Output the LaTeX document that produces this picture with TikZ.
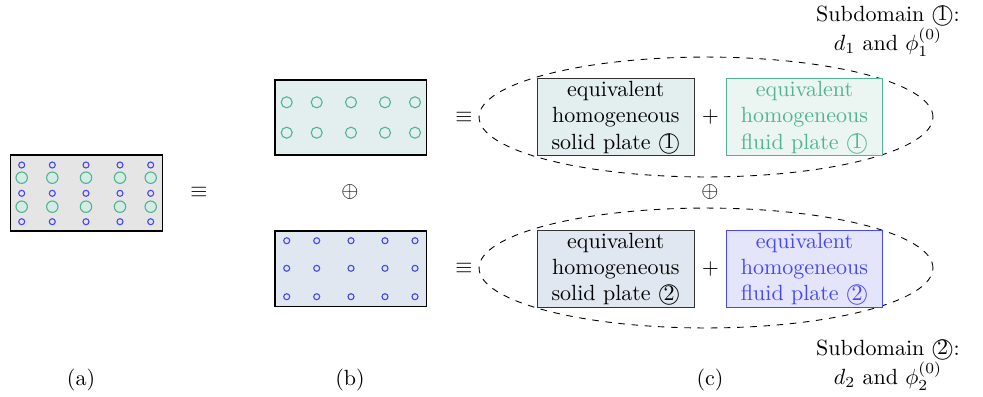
\documentclass[tikz,border=0pt]{standalone}
\usetikzlibrary{shapes.geometric}
\definecolor{gcol}{RGB}{82,180,146}
\definecolor{bcol}{RGB}{70,70,250}
\definecolor{fillgray}{RGB}{229,229,229}
\definecolor{fillG}{RGB}{227,239,238}
\definecolor{fillB}{RGB}{225,231,240}
\definecolor{fillFG}{RGB}{235,245,242}
\definecolor{fillFB}{RGB}{228,228,250}
\definecolor{circfill}{RGB}{212,236,228}
\definecolor{boxborder}{RGB}{50,50,50}
\begin{document}
\begin{tikzpicture}[x=0.4545pt,y=-0.4545pt,
  plate/.style={draw=black, line width=0.7pt, inner sep=0pt},
  bigc/.style={draw=gcol, line width=0.5pt},
  smallc/.style={draw=bcol, line width=0.5pt},
  solidbox/.style={draw=boxborder, line width=0.6pt, align=center, minimum width=71.4pt, minimum height=34.4pt, inner sep=1pt},
  fluidbox/.style={line width=0.5pt, align=center, minimum width=70.7pt, minimum height=34.4pt, inner sep=1pt},
  env/.style={draw, dashed, ellipse, minimum width=206.3pt, minimum height=54.5pt, inner sep=0pt},
  lbl/.style={inner sep=1pt, align=center}]
\useasboundingbox (0,0) rectangle (983,396);
% (a)
\node[plate, fill=fillgray, minimum width=68.9pt, minimum height=34.4pt] (pa) at (86.5,193) {};
\foreach \x in {21.7,52.3,86,120,150.7}{
  \foreach \y in {165,193.3,221.7} \draw[smallc] (\x,\y) circle[radius=3];
  \foreach \y in {177.7,206.7} \draw[bigc, fill=circfill] (\x,\y) circle[radius=5.7];
}
% (b)
\node[plate, fill=fillG, minimum width=68.9pt, minimum height=34.1pt] (pb1) at (350.8,117.5) {};
\node[plate, fill=fillB, minimum width=68.9pt, minimum height=34.5pt] (pb2) at (350.8,268.7) {};
\foreach \x in {286.7,316.7,351,385,415}{
  \foreach \y in {102.3,132.7} \draw[bigc] (\x,\y) circle[radius=5.5];
  \foreach \y in {240.7,268.3,296.7} \draw[smallc] (\x,\y) circle[radius=3];
}
% operators
\node (eq1) at (199,192) {$\equiv$};
\node (op1) at (350,192) {$\oplus$};
\node (eq2) at (464,117) {$\equiv$};
\node (eq3) at (464,268) {$\equiv$};
\node (op2) at (710,192) {$\oplus$};
% ellipses
\node[env] (e1) at (706,117) {};
\node[env] (e2) at (706,268) {};
% boxes
\node[solidbox, fill=fillG] (s1) at (615.8,117.2) {equivalent\\homogeneous\\solid plate \textcircled{1}};
\node[fluidbox, draw=gcol, fill=fillFG, text=gcol] (f1) at (804.5,117.2) {equivalent\\homogeneous\\fluid plate \textcircled{1}};
\node[solidbox, fill=fillB] (s2) at (615.8,268.9) {equivalent\\homogeneous\\solid plate \textcircled{2}};
\node[fluidbox, draw=bcol, fill=fillFB, text=bcol] (f2) at (804.5,268.9) {equivalent\\homogeneous\\fluid plate \textcircled{2}};
\node (pl1) at (710.5,117) {$+$};
\node (pl2) at (710.5,268.5) {$+$};
% subdomain labels
\node[lbl] (sd1) at (888,31) {Subdomain \textcircled{1}:\\ $d_1$ and $\phi_1^{(0)}$};
\node[lbl] (sd2) at (888,365) {Subdomain \textcircled{2}:\\ $d_2$ and $\phi_2^{(0)}$};
% captions
\node (ca) at (81,380) {(a)};
\node (cb) at (350,380) {(b)};
\node (cc) at (710,380) {(c)};
\end{tikzpicture}
\end{document}
